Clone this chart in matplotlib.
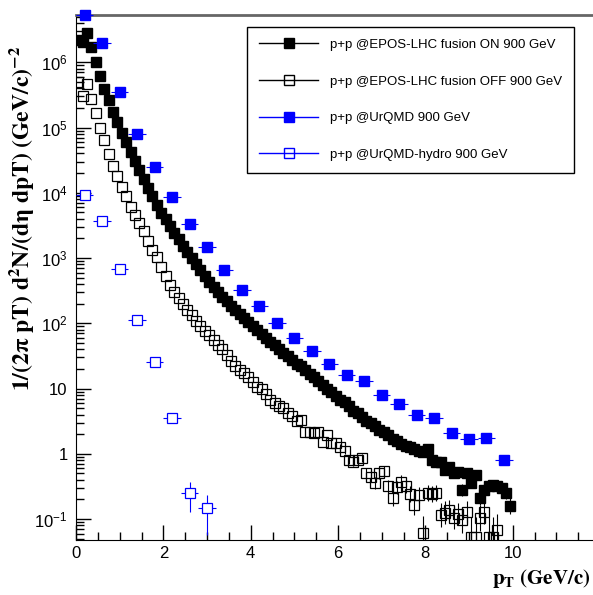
import numpy as np
import matplotlib
matplotlib.use("Agg")
import matplotlib.pyplot as plt
from matplotlib.lines import Line2D
from matplotlib.ticker import FixedLocator, FixedFormatter, LogLocator, MultipleLocator

plt.rcParams['font.family'] = ['Liberation Sans', 'DejaVu Sans']
plt.rcParams['mathtext.fontset'] = 'custom'
plt.rcParams['mathtext.rm'] = 'Liberation Sans'
plt.rcParams['mathtext.it'] = 'Liberation Sans:italic'
plt.rcParams['mathtext.bf'] = 'Liberation Sans:bold'

# EPOS-LHC: 100 bins of 0.1 GeV/c, centres 0.05 ... 9.95
epos_pt = [0.05 + 0.1 * i for i in range(100)]

epos_on = [
    2.19e6, 2.04e6, 2.82e6, 1.70e6, 1.00e6, 6.17e5, 3.89e5, 2.63e5, 1.74e5, 1.20e5,
    8.32e4, 6.03e4, 4.17e4, 3.02e4, 2.24e4, 1.62e4, 1.17e4, 8.91e3, 6.46e3, 4.90e3,
    3.98e3, 3.09e3, 2.45e3, 1.95e3, 1.55e3, 1.23e3, 1.00e3, 813, 661, 525,
    437, 363, 302, 257, 219, 186, 158, 138, 120, 105,
    91.2, 79.4, 69.2, 60.3, 52.5, 46.8, 40.7, 35.5, 31.6, 27.5,
    24.0, 21.9, 19.1, 16.6, 14.8, 13.2, 11.5, 10.0, 8.91, 7.59,
    6.76, 6.17, 5.50, 4.57, 4.17, 3.72, 3.16, 2.95, 2.69, 2.34,
    2.19, 1.91, 1.66, 1.55, 1.41, 1.32, 1.26, 1.17, 1.10, 1.05,
    1.20, 0.794, 0.741, 0.759, 0.562, 0.631, 0.501, 0.525, 0.282, 0.513,
    0.355, 0.479, 0.209, 0.282, 0.316, 0.331, 0.316, 0.302, 0.251, 0.158,
]

epos_off = [
    4.90e5, 3.09e5, 4.57e5, 2.69e5, 1.66e5, 1.00e5, 6.46e4, 3.89e4, 2.57e4, 1.78e4,
    1.23e4, 8.91e3, 6.03e3, 4.57e3, 3.39e3, 2.57e3, 1.82e3, 1.32e3, 1.02e3, 724,
    525, 389, 302, 245, 200, 162, 135, 110, 91.2, 75.9,
    66.1, 55.0, 45.7, 39.8, 32.4, 26.9, 22.4, 19.1, 17.4, 14.8,
    12.6, 10.5, 10.0, 8.32, 6.61, 6.03, 5.50, 5.01, 4.17, 3.80,
    3.16, 3.31, 2.14, 2.19, 2.09, 2.19, 1.51, 1.95, 1.45, 1.48,
    1.26, 1.12, 0.813, 0.759, 0.794, 0.871, 0.501, 0.447, 0.355, 0.501,
    0.550, 0.316, 0.209, 0.309, 0.372, 0.316, 0.240, 0.166, 0.234, 0.0617,
    0.251, 0.240, 0.251, 0.115, 0.126, 0.138, 0.105, 0.120, 0.0977, 0.129,
    0.0537, 0.0537, 0.105, 0.129, 0.0537, 0.0537, 0.0676, np.nan, np.nan, np.nan,
]

# relative errors on the tails (log10 half width), from bin 80 / bin 60 on
epos_on_tail_err = [
    0.04, 0.05, 0.05, 0.05, 0.06, 0.06, 0.07, 0.07, 0.09, 0.07,
    0.08, 0.07, 0.10, 0.09, 0.08, 0.08, 0.08, 0.08, 0.09, 0.12,
]
epos_off_tail_err = [
    0.05, 0.05, 0.06, 0.06, 0.06, 0.06, 0.08, 0.08, 0.09, 0.08,
    0.08, 0.10, 0.12, 0.10, 0.10, 0.10, 0.12, 0.15, 0.12, 0.25,
    0.12, 0.12, 0.12, 0.18, 0.17, 0.16, 0.18, 0.17, 0.20, 0.17,
    0.30, 0.30, 0.20, 0.18, 0.30, 0.30, 0.25, 0.0, 0.0, 0.0,
]

# UrQMD: bins of 0.4 GeV/c
urqmd_pt = [0.2, 0.6, 1.0, 1.4, 1.8, 2.2, 2.6, 3.0, 3.4, 3.8, 4.2, 4.6, 5.0,
            5.4, 5.8, 6.2, 6.6, 7.0, 7.4, 7.8, 8.2, 8.6, 9.0, 9.4, 9.8]
urqmd = [5.3e6, 2.0e6, 3.5e5, 7.9e4, 2.45e4, 8.5e3, 3.3e3, 1.47e3, 650, 323, 183, 100, 59,
         37, 23.7, 16.1, 13.0, 7.9, 5.8, 3.93, 3.53, 2.08, 1.69, 1.75, 0.80]

hydro_pt = [0.2, 0.6, 1.0, 1.4, 1.8, 2.2, 2.6, 3.0]
hydro = [9.1e3, 3.7e3, 676, 112, 25.5, 3.5, 0.25, 0.148]
hydro_err = [0, 0, 0, 0, 0, 0, 0.12, 0.09]

labels = ["p+p @EPOS-LHC fusion ON 900 GeV", "p+p @EPOS-LHC fusion OFF 900 GeV",
          "p+p @UrQMD 900 GeV", "p+p @UrQMD-hydro 900 GeV"]

xt = [0, 2, 4, 6, 8, 10, 12]
xtl = ['0', '2', '4', '6', '8', '10', '']
yt = [0.1, 1, 10, 100, 1e3, 1e4, 1e5, 1e6]
ytl = ['$10^{-1}$', '1', '10', '$10^{2}$', '$10^{3}$', '$10^{4}$', '$10^{5}$', '$10^{6}$']


def log_err(vals, tail, start):
    v = np.array(vals, dtype=float)
    e = np.zeros(len(v))
    e[start:] = tail
    return [v * (1 - 10 ** -e), v * (10 ** e - 1)]


fig = plt.figure(figsize=(5.93, 5.95), dpi=100)
ax = fig.add_axes([76 / 593, 55 / 595, 524 / 593, 525 / 595])

blue = '#0000ff'
ms = 7
ax.errorbar(epos_pt, epos_off, yerr=log_err(epos_off, epos_off_tail_err, 60), fmt='s',
            color='k', mfc='none', mec='k', mew=0.9, ms=ms, elinewidth=0.8, capsize=0)
ax.errorbar(epos_pt, epos_on, yerr=log_err(epos_on, epos_on_tail_err, 80), fmt='s',
            color='k', mfc='k', mec='k', ms=ms, elinewidth=0.8, capsize=0)
ax.errorbar(urqmd_pt, urqmd, xerr=0.2, fmt='s', color=blue, mfc=blue, mec=blue,
            ms=ms, elinewidth=0.8, capsize=0, clip_on=False, zorder=4)
ax.errorbar(hydro_pt, hydro, xerr=0.2, yerr=hydro_err, fmt='s', color=blue, mfc='white',
            mec=blue, mew=0.9, ms=ms, elinewidth=0.8, capsize=0, zorder=4)

ax.set_yscale('log')
ax.set_xlim(0, 12)
ax.set_ylim(0.0478, 5.3e6)

ax.xaxis.set_major_locator(FixedLocator(xt))
ax.xaxis.set_major_formatter(FixedFormatter(xtl))
ax.xaxis.set_minor_locator(MultipleLocator(0.5))
ax.yaxis.set_major_locator(FixedLocator(yt))
ax.yaxis.set_major_formatter(FixedFormatter(ytl))
ax.yaxis.set_minor_locator(LogLocator(base=10, subs=np.arange(2, 10), numticks=20))
ax.tick_params(which='both', direction='in', top=False, right=False, labelsize=12, width=1)
ax.tick_params(which='major', length=11)
ax.tick_params(which='minor', length=5.5)
ax.tick_params(axis='y', pad=6)
ax.tick_params(axis='x', pad=4)

ax.spines['top'].set_color('#666666')
ax.spines['top'].set_linewidth(2)
ax.spines['right'].set_visible(False)

fig.text(22 / 593, 1 - 218 / 595,
         r'$\mathbf{1/(2\pi\ pT)\ d^{2}N/(d\eta\ dpT)\ (GeV/c)^{-2}}$',
         rotation=90, ha='center', va='center', fontsize=17, math_fontfamily='stix')
fig.text(590 / 593, 1 - 584 / 595, r'$\mathbf{p_{T}\ (GeV/c)}$', ha='right',
         va='baseline', fontsize=15, math_fontfamily='stix')

handles = [
    Line2D([0], [0], color='k', marker='s', mfc='k', mec='k', ms=ms, lw=1),
    Line2D([0], [0], color='k', marker='s', mfc='none', mec='k', ms=ms, lw=1),
    Line2D([0], [0], color=blue, marker='s', mfc=blue, mec=blue, ms=ms, lw=1),
    Line2D([0], [0], color=blue, marker='s', mfc='none', mec=blue, ms=ms, lw=1),
]
leg = fig.legend(handles, labels, loc='upper left', bbox_to_anchor=(247 / 593, 1 - 27 / 595),
                 fontsize=9.5, handlelength=4.5, handletextpad=0.9, labelspacing=1.85,
                 borderpad=0.9, borderaxespad=0, fancybox=False, framealpha=1,
                 edgecolor='k')
leg.get_frame().set_linewidth(1)

fig.savefig('out.png', dpi=100)
